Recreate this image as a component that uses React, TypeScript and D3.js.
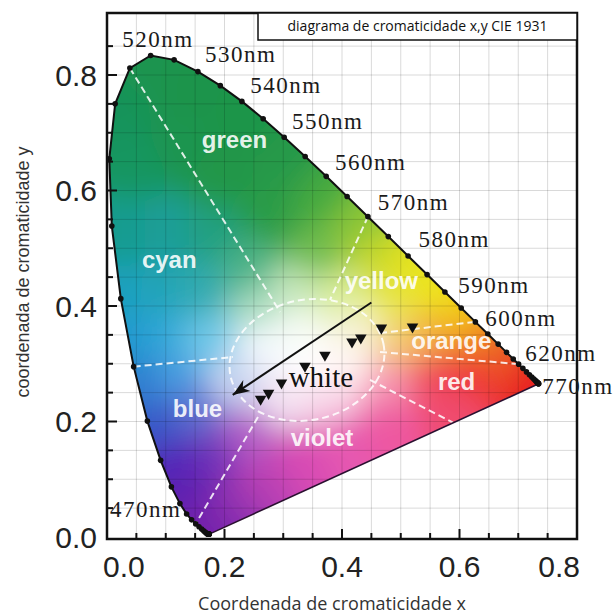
import React, { useEffect, useRef } from 'react';
import * as d3 from 'd3';

// CIE 1931 spectral locus, 5 nm steps
const wavelengths = d3.range(380, 705, 5);
const locusX = [0.1741, 0.1740, 0.1738, 0.1736, 0.1733, 0.1730, 0.1726, 0.1721, 0.1714, 0.1703, 0.1689, 0.1669, 0.1644,
  0.1611, 0.1566, 0.1510, 0.1440, 0.1355, 0.1241, 0.1096, 0.0913, 0.0687, 0.0454, 0.0235, 0.0082, 0.0039, 0.0139,
  0.0389, 0.0743, 0.1142, 0.1547, 0.1929, 0.2296, 0.2658, 0.3016, 0.3373, 0.3731, 0.4087, 0.4441, 0.4788, 0.5125,
  0.5448, 0.5752, 0.6029, 0.6270, 0.6482, 0.6658, 0.6801, 0.6915, 0.7006, 0.7079, 0.7140, 0.7190, 0.7230, 0.7260,
  0.7283, 0.7300, 0.7311, 0.7320, 0.7327, 0.7334, 0.7340, 0.7344, 0.7346, 0.7347];
const locusY = [0.0050, 0.0050, 0.0049, 0.0049, 0.0048, 0.0048, 0.0048, 0.0048, 0.0051, 0.0058, 0.0069, 0.0086, 0.0109,
  0.0138, 0.0177, 0.0227, 0.0297, 0.0399, 0.0578, 0.0868, 0.1327, 0.2007, 0.2950, 0.4127, 0.5384, 0.6548, 0.7502,
  0.8120, 0.8338, 0.8262, 0.8059, 0.7816, 0.7543, 0.7243, 0.6923, 0.6589, 0.6245, 0.5896, 0.5547, 0.5202, 0.4866,
  0.4544, 0.4242, 0.3965, 0.3725, 0.3514, 0.3340, 0.3197, 0.3083, 0.2993, 0.2920, 0.2859, 0.2809, 0.2770, 0.2740,
  0.2717, 0.2700, 0.2689, 0.2680, 0.2673, 0.2666, 0.2660, 0.2656, 0.2654, 0.2653];

// wavelength labels (left edge, baseline) in chromaticity units
const nmLabels = ['520nm', '530nm', '540nm', '550nm', '560nm', '570nm', '580nm', '590nm', '600nm', '620nm', '770nm', '470nm'];
const nmLabelX = [0.026, 0.167, 0.244, 0.315, 0.388, 0.461, 0.530, 0.598, 0.644, 0.712, 0.741, 0.005];
const nmLabelY = [0.848, 0.822, 0.768, 0.707, 0.636, 0.566, 0.503, 0.422, 0.365, 0.304, 0.248, 0.035];

// colour names
const regionNames = ['green', 'cyan', 'yellow', 'orange', 'red', 'blue', 'violet'];
const regionX = [0.217, 0.106, 0.467, 0.586, 0.595, 0.154, 0.366];
const regionY = [0.674, 0.466, 0.429, 0.325, 0.255, 0.208, 0.158];
const whiteLabel = { text: 'white', x: 0.364, y: 0.260 };

// white dashed boundaries [x1, y1, x2, y2]
const boundaries = [
  [0.0389, 0.8120, 0.2945, 0.3897],
  [0.0454, 0.2950, 0.2145, 0.3117],
  [0.4441, 0.5547, 0.3796, 0.4105],
  [0.4647, 0.3533, 0.6270, 0.3725],
  [0.4647, 0.3204, 0.7006, 0.2993],
  [0.4477, 0.2719, 0.5890, 0.1980],
  [0.2570, 0.2078, 0.1510, 0.0227],
];
const whiteZone = { cx: 0.3404, cy: 0.3065, rx: 0.133, ry: 0.104, angle: -12 };

// measured points (down triangles)
const pointX = [0.2615, 0.275, 0.297, 0.337, 0.371, 0.417, 0.432, 0.467, 0.520];
const pointY = [0.239, 0.249, 0.267, 0.296, 0.315, 0.338, 0.345, 0.362, 0.364];

// trend arrow
const arrowFrom = [0.450, 0.406];
const arrowTo = [0.214, 0.246];

const xTicks = [0, 0.2, 0.4, 0.6, 0.8];
const yTicks = [0, 0.2, 0.4, 0.6, 0.8];

// colour field samples: [x, y, colour]
const shading: [number, number, string][] = [
  [0.02, 0.75, '#18935a'], [0.07, 0.80, '#1a9450'], [0.14, 0.78, '#1b944c'], [0.22, 0.72, '#1d954a'],
  [0.12, 0.68, '#1c9550'], [0.05, 0.65, '#189660'], [0.20, 0.62, '#22974a'], [0.30, 0.64, '#27994a'],
  [0.28, 0.56, '#2a9c46'], [0.36, 0.58, '#46aa40'], [0.42, 0.53, '#8cc638'], [0.36, 0.49, '#70bc50'],
  [0.45, 0.48, '#c6d82c'], [0.50, 0.45, '#e4e222'], [0.56, 0.42, '#eee41c'], [0.48, 0.40, '#e8e650'],
  [0.60, 0.385, '#f2c818'], [0.56, 0.36, '#f2a830'], [0.63, 0.35, '#f08a24'], [0.50, 0.34, '#f4c870'],
  [0.67, 0.31, '#ec5a26'], [0.72, 0.275, '#e82020'], [0.62, 0.28, '#ee3a34'], [0.55, 0.27, '#f04a5a'],
  [0.48, 0.26, '#f696b4'], [0.58, 0.22, '#f04c70'], [0.48, 0.20, '#ee58a0'], [0.40, 0.17, '#e658b0'],
  [0.33, 0.14, '#d84cb4'], [0.26, 0.10, '#b840b4'], [0.21, 0.06, '#9030b0'], [0.17, 0.03, '#7420ac'],
  [0.14, 0.08, '#6020b0'], [0.12, 0.13, '#5228b8'], [0.18, 0.14, '#7030b8'], [0.24, 0.18, '#b460c8'],
  [0.09, 0.20, '#3858c8'], [0.15, 0.22, '#6070d0'], [0.06, 0.27, '#2f7ed0'], [0.12, 0.28, '#4a9ce0'],
  [0.04, 0.34, '#2098d0'], [0.10, 0.35, '#30a8d8'], [0.17, 0.34, '#70c8e8'], [0.03, 0.42, '#1ca0c0'],
  [0.09, 0.43, '#20a4b8'], [0.16, 0.43, '#30aab0'], [0.03, 0.52, '#189c90'], [0.10, 0.52, '#1c9e98'],
  [0.18, 0.52, '#22a080'], [0.24, 0.46, '#50b488'], [0.26, 0.40, '#a8dcc0'], [0.32, 0.42, '#c8e8bc'],
  [0.40, 0.42, '#dcee98'], [0.43, 0.36, '#f6f2d4'], [0.335, 0.30, '#ffffff'], [0.27, 0.33, '#f2f8fc'],
  [0.32, 0.36, '#f6fbf4'], [0.40, 0.30, '#fff6f4'], [0.30, 0.24, '#f4e2f2'], [0.38, 0.23, '#f8d2e6'],
  [0.22, 0.27, '#c8d4f0'],
];

const App = () => {
  const node = useRef<SVGSVGElement>(null);

  useEffect(() => {
    draw();
  }, []);

  const draw = () => {
    const width = 614,
      height = 615;
    const left = 107,
      right = 577,
      top = 13,
      bottom = 539;

    const svg = d3.select(node.current);
    svg.selectAll('*').remove();
    svg.attr('width', width).attr('height', height);

    const x = d3.scaleLinear().domain([0, 0.8]).range([left, right]);
    const y = d3.scaleLinear().domain([0, 0.8]).range([537, 75]);
    const ux = x(1) - x(0);

    svg.append('rect').attr('width', width).attr('height', height).attr('fill', '#fff');

    const pts: [number, number][] = wavelengths.map((w, i) => [x(locusX[i]), y(locusY[i])]);
    const shoe = d3.line()(pts) + 'Z';

    const defs = svg.append('defs');
    defs.append('clipPath').attr('id', 'shoe').append('path').attr('d', shoe);
    defs.append('filter')
      .attr('id', 'soft')
      .attr('filterUnits', 'userSpaceOnUse')
      .attr('x', 0).attr('y', 0).attr('width', width).attr('height', height)
      .append('feGaussianBlur').attr('stdDeviation', 15);
    const marker = defs.append('marker')
      .attr('id', 'head')
      .attr('markerUnits', 'userSpaceOnUse')
      .attr('viewBox', '-18 -8 20 16')
      .attr('markerWidth', 20).attr('markerHeight', 16)
      .attr('refX', 0).attr('refY', 0)
      .attr('orient', 'auto');
    marker.append('path').attr('d', 'M0,0 L-17,-6.5 L-12,0 L-17,6.5 Z').attr('fill', '#111');

    // colour field: voronoi cells of the samples, blurred and clipped to the locus
    const voronoi = d3.Delaunay
      .from(shading, d => x(d[0]), d => y(d[1]))
      .voronoi([40, 0, 600, 580]);
    const field = svg.append('g').attr('clip-path', 'url(#shoe)')
      .append('g').attr('filter', 'url(#soft)');
    field.selectAll('path')
      .data(shading)
      .enter()
      .append('path')
      .attr('d', (d, i) => voronoi.renderCell(i))
      .attr('fill', d => d[2])
      .attr('stroke', d => d[2]);

    // grid
    const grid = svg.append('g').attr('stroke', '#000').attr('stroke-opacity', 0.15).attr('stroke-width', 1);
    grid.selectAll('line.v')
      .data(d3.range(1, 16).map(i => i * 0.05))
      .enter().append('line')
      .attr('x1', d => x(d)).attr('x2', d => x(d))
      .attr('y1', top).attr('y2', bottom);
    grid.selectAll('line.h')
      .data(d3.range(1, 18).map(i => i * 0.05))
      .enter().append('line')
      .attr('class', 'h')
      .attr('x1', left).attr('x2', right)
      .attr('y1', d => y(d)).attr('y2', d => y(d));

    // boundaries
    const dash = svg.append('g')
      .attr('fill', 'none')
      .attr('stroke', '#fff')
      .attr('stroke-opacity', 0.85)
      .attr('stroke-width', 2)
      .attr('stroke-dasharray', '7,4');
    dash.selectAll('line')
      .data(boundaries)
      .enter().append('line')
      .attr('x1', d => x(d[0])).attr('y1', d => y(d[1]))
      .attr('x2', d => x(d[2])).attr('y2', d => y(d[3]));
    dash.append('ellipse')
      .attr('cx', 0).attr('cy', 0)
      .attr('rx', whiteZone.rx * ux)
      .attr('ry', whiteZone.ry * (y(0) - y(1)))
      .attr('transform', 'translate(' + x(whiteZone.cx) + ',' + y(whiteZone.cy) + ') rotate(' + whiteZone.angle + ')');

    // locus outline and purple line
    svg.append('path')
      .attr('d', d3.line()(pts))
      .attr('fill', 'none').attr('stroke', '#111').attr('stroke-width', 2);
    svg.append('path')
      .attr('d', d3.line()([pts[pts.length - 1], pts[0]]))
      .attr('fill', 'none').attr('stroke', '#2a1030').attr('stroke-width', 1.6);
    svg.append('g').selectAll('circle')
      .data(pts)
      .enter().append('circle')
      .attr('cx', d => d[0]).attr('cy', d => d[1])
      .attr('r', 2.8).attr('fill', '#111');

    // region labels
    svg.append('g').selectAll('text')
      .data(regionNames)
      .enter().append('text')
      .attr('x', (d, i) => x(regionX[i]))
      .attr('y', (d, i) => y(regionY[i]))
      .attr('text-anchor', 'middle')
      .style('font-family', '"Liberation Sans", Arial, sans-serif')
      .style('font-weight', 'bold')
      .style('font-size', '24px')
      .attr('fill', '#fff')
      .attr('fill-opacity', 0.9)
      .text(d => d);

    // arrow
    svg.append('line')
      .attr('x1', x(arrowFrom[0])).attr('y1', y(arrowFrom[1]))
      .attr('x2', x(arrowTo[0])).attr('y2', y(arrowTo[1]))
      .attr('stroke', '#111').attr('stroke-width', 2)
      .attr('marker-end', 'url(#head)');

    // points
    const tri = d3.symbol().type(d3.symbolTriangle).size(58);
    svg.append('g').selectAll('path')
      .data(pointX)
      .enter().append('path')
      .attr('d', tri() as string)
      .attr('transform', (d, i) => 'translate(' + x(d) + ',' + y(pointY[i]) + ') rotate(180)')
      .attr('fill', '#111');

    svg.append('text')
      .attr('x', x(whiteLabel.x)).attr('y', y(whiteLabel.y))
      .attr('text-anchor', 'middle')
      .style('font-family', '"Liberation Serif", "Times New Roman", serif')
      .style('font-size', '29px')
      .attr('fill', '#111')
      .text(whiteLabel.text);

    // frame
    svg.append('rect')
      .attr('x', left).attr('y', top)
      .attr('width', right - left).attr('height', bottom - top)
      .attr('fill', 'none').attr('stroke', '#111').attr('stroke-width', 2.5);

    // ticks, inward
    const ticks = svg.append('g').attr('stroke', '#111').attr('stroke-width', 2);
    ticks.selectAll('line.bx')
      .data(d3.range(1, 16).map(i => i * 0.05))
      .enter().append('line')
      .attr('x1', d => x(d)).attr('x2', d => x(d))
      .attr('y1', bottom).attr('y2', (d, i) => bottom - ((i + 1) % 4 === 0 ? 10 : 6));
    ticks.selectAll('line.ly')
      .data(d3.range(1, 18).map(i => i * 0.05))
      .enter().append('line')
      .attr('class', 'ly')
      .attr('x1', left).attr('x2', (d, i) => left + ((i + 1) % 4 === 0 ? 10 : 6))
      .attr('y1', d => y(d)).attr('y2', d => y(d));

    // wavelength labels
    svg.append('g').selectAll('text')
      .data(nmLabels)
      .enter().append('text')
      .attr('x', (d, i) => x(nmLabelX[i]))
      .attr('y', (d, i) => y(nmLabelY[i]))
      .style('font-family', '"Liberation Serif", "Times New Roman", serif')
      .style('font-size', '23px')
      .style('letter-spacing', '1.5px')
      .attr('fill', '#1a1a1a')
      .text(d => d);

    // tick labels
    const tickFont = '"Liberation Sans", Arial, sans-serif';
    svg.append('g').selectAll('text')
      .data(xTicks)
      .enter().append('text')
      .attr('x', (d, i) => i === 0 ? x(d) - 4 : i === xTicks.length - 1 ? x(d) + 3 : x(d))
      .attr('y', 577)
      .attr('text-anchor', (d, i) => i === 0 ? 'start' : i === xTicks.length - 1 ? 'end' : 'middle')
      .style('font-family', tickFont)
      .style('font-size', '30px')
      .attr('fill', '#222')
      .text(d => d3.format('.1f')(d));
    svg.append('g').selectAll('text')
      .data(yTicks)
      .enter().append('text')
      .attr('x', 97)
      .attr('y', d => y(d))
      .attr('dy', '0.35em')
      .attr('text-anchor', 'end')
      .style('font-family', tickFont)
      .style('font-size', '30px')
      .attr('fill', '#222')
      .text(d => d3.format('.1f')(d));

    // title box
    svg.append('rect')
      .attr('x', 258).attr('y', top)
      .attr('width', right - 258).attr('height', 27)
      .attr('fill', '#fff').attr('stroke', '#111').attr('stroke-width', 1.5);
    svg.append('text')
      .attr('x', (258 + right) / 2).attr('y', 31)
      .attr('text-anchor', 'middle')
      .style('font-family', '"Open Sans", sans-serif')
      .style('font-size', '14px')
      .attr('fill', '#111')
      .text('diagrama de cromaticidade x,y CIE 1931');

    // axis titles
    svg.append('text')
      .attr('x', 332).attr('y', 610)
      .attr('text-anchor', 'middle')
      .style('font-family', '"Open Sans", sans-serif')
      .style('font-size', '18px')
      .attr('fill', '#333')
      .text('Coordenada de cromaticidade x');
    svg.append('text')
      .attr('transform', 'translate(29,272) rotate(-90)')
      .attr('text-anchor', 'middle')
      .style('font-family', '"Liberation Sans", Arial, sans-serif')
      .style('font-size', '18px')
      .attr('fill', '#333')
      .text('coordenada de cromaticidade y');
  };

  return <svg ref={node} style={{ position: 'absolute', left: 0, top: 0 }}></svg>;
};

export default App;
